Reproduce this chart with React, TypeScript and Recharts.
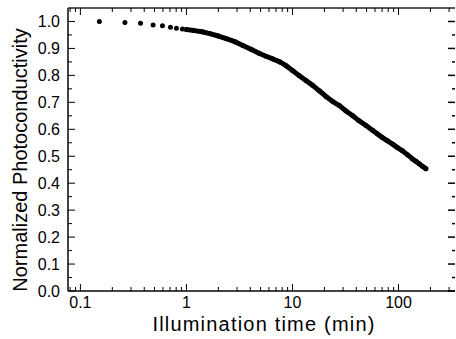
import React from 'react';
import { ScatterChart, Scatter, XAxis, YAxis, ReferenceLine } from 'recharts';

// Illumination time (min) and normalized photoconductivity
const sparseTime = [0.151, 0.263, 0.369, 0.485, 0.594, 0.707, 0.805, 0.917];
const sparseValue = [1.0, 0.996, 0.993, 0.987, 0.984, 0.979, 0.975, 0.972];

const denseTime = [
  1.0, 1.15, 1.4, 1.66, 2.0, 2.38, 2.9, 3.41, 4.1, 4.89, 5.7, 6.53, 7.6, 8.72,
  10.0, 11.6, 13.4, 15.5, 18.0, 20.7, 24.0, 27.7, 32.0, 37.0, 42.0, 49.4, 56.9,
  63.0, 70.7, 78.0, 87.9, 97.0, 109, 122, 135.5, 146, 156.6, 168, 181,
];
const denseValue = [
  0.970, 0.967, 0.962, 0.955, 0.946, 0.936, 0.924, 0.911, 0.896, 0.881, 0.870,
  0.861, 0.850, 0.836, 0.818, 0.799, 0.781, 0.763, 0.742, 0.722, 0.703, 0.688,
  0.668, 0.650, 0.633, 0.614, 0.596, 0.583, 0.569, 0.558, 0.545, 0.533, 0.520,
  0.505, 0.490, 0.481, 0.472, 0.463, 0.454,
];

const xMajorTicks = [0.1, 1, 10, 100];
const xMinorTicks = [
  0.08, 0.09, 0.2, 0.3, 0.4, 0.5, 0.6, 0.7, 0.8, 0.9, 2, 3, 4, 5, 6, 7, 8, 9,
  20, 30, 40, 50, 60, 70, 80, 90, 200, 300,
];
const yMajorTicks = [0, 0.1, 0.2, 0.3, 0.4, 0.5, 0.6, 0.7, 0.8, 0.9, 1.0];
const yMinorTicks = [0.05, 0.15, 0.25, 0.35, 0.45, 0.55, 0.65, 0.75, 0.85, 0.95];

const xDomain: [number, number] = [0.0764, 341];
const yDomain: [number, number] = [0, 1.05];

const sparseData = sparseTime.map((t, i) => ({ t, v: sparseValue[i] }));
const denseData = denseTime.map((t, i) => ({ t, v: denseValue[i] }));

const W = 456;
const H = 339;
const MARGIN = { top: 8, right: 0, bottom: 0, left: 0 };
const Y_AXIS_W = 68;
const X_AXIS_H = 48;
const PLOT_TOP = MARGIN.top;

const FONT = '"Liberation Sans", Arial, sans-serif';

const XTick = (props: any) => {
  const { x, y, payload } = props;
  const v = payload.value;
  const major = xMajorTicks.includes(v);
  const len = major ? 7 : 4;
  return (
    <g>
      <line x1={x} x2={x} y1={y} y2={y - len} stroke="#000" strokeWidth={1} />
      <line x1={x} x2={x} y1={PLOT_TOP} y2={PLOT_TOP + len} stroke="#000" strokeWidth={1} />
      {major && (
        <text x={x} y={y + 17} textAnchor="middle" fontSize={16} fontFamily={FONT} fill="#000">
          {String(v)}
        </text>
      )}
    </g>
  );
};

const YTick = (props: any) => {
  const { x, y, payload } = props;
  const v = payload.value;
  const major = yMajorTicks.includes(v);
  const len = major ? 7 : 4;
  return (
    <g>
      <line x1={x} x2={x + len} y1={y} y2={y} stroke="#000" strokeWidth={1} />
      {major && (
        <text x={x - 8} y={y} dy={5.5} textAnchor="end" fontSize={16} fontFamily={FONT} fill="#000">
          {v.toFixed(1)}
        </text>
      )}
    </g>
  );
};

// Mirror ticks on the right edge, pointing inward
const RightTick = (props: any) => {
  const { x, y, payload } = props;
  const major = yMajorTicks.includes(payload.value);
  const len = major ? 7 : 3;
  return <path d={`M${x - len},${y}H${x}`} stroke="#000" strokeWidth={1.5} fill="none" />;
};

const Dot = (props: any) => <circle cx={props.cx} cy={props.cy} r={2.5} fill="#000" />;

const XLabel = () => (
  <text x={264} y={331} textAnchor="middle" fontSize={20} letterSpacing={1.2} fontFamily={FONT} fill="#000">
    Illumination time (min)
  </text>
);

const YLabel = () => (
  <text
    x={27}
    y={160}
    textAnchor="middle"
    fontSize={20}
    fontFamily={FONT}
    fill="#000"
    transform="rotate(-90, 27, 160)"
  >
    Normalized Photoconductivity
  </text>
);

export default function App() {
  return (
    <div style={{ position: 'absolute', left: 0, top: 0 }}>
      <ScatterChart width={W} height={H} margin={MARGIN}>
        <XAxis
          dataKey="t"
          type="number"
          scale="log"
          domain={xDomain}
          allowDataOverflow
          ticks={[...xMajorTicks, ...xMinorTicks]}
          interval={0}
          height={X_AXIS_H}
          tickSize={0}
          tickMargin={0}
          tickLine={false}
          tick={<XTick />}
          axisLine={{ stroke: '#444', strokeWidth: 2 }}
          label={{ content: () => <XLabel /> }}
        />
        <YAxis
          dataKey="v"
          type="number"
          domain={yDomain}
          ticks={[...yMajorTicks, ...yMinorTicks]}
          interval={0}
          width={Y_AXIS_W}
          tickSize={0}
          tickMargin={0}
          tickLine={false}
          tick={<YTick />}
          axisLine={{ stroke: '#444', strokeWidth: 2 }}
          label={{ content: () => <YLabel /> }}
        />
        <YAxis
          yAxisId="right"
          orientation="right"
          dataKey="v"
          type="number"
          domain={yDomain}
          allowDataOverflow
          ticks={[...yMajorTicks, ...yMinorTicks]}
          interval={0}
          width={1}
          tickSize={0}
          tickMargin={0}
          tickLine={false}
          axisLine={false}
          tick={<RightTick />}
        />
        <ReferenceLine y={yDomain[1]} stroke="#222" strokeWidth={1.5} />
        <Scatter data={sparseData} shape={<Dot />} isAnimationActive={false} />
        <Scatter
          data={denseData}
          shape={<Dot />}
          line={{ stroke: '#000', strokeWidth: 5, strokeLinejoin: 'round', strokeLinecap: 'round' }}
          isAnimationActive={false}
        />
      </ScatterChart>
    </div>
  );
}
